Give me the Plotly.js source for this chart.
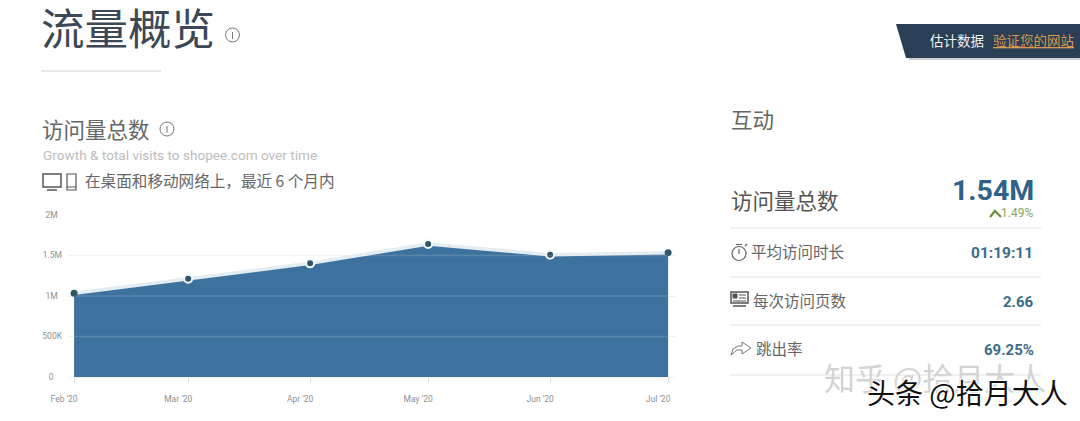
<!DOCTYPE html>
<html>
<head>
<meta charset="utf-8">
<script src="https://cdn.plot.ly/plotly-3.0.1.min.js"></script>
<style>html,body{margin:0;padding:0;background:#fff;overflow:hidden}#chart{width:1080px;height:421px}</style>
</head>
<body>
<div id="chart"></div>
<script>
const months = ['2020-02-01','2020-03-01','2020-04-01','2020-05-01','2020-06-01','2020-07-01'];
const monthLabels = ["Feb '20","Mar '20","Apr '20","May '20","Jun '20","Jul '20"];
const visits = [1033000,1214000,1403000,1642000,1510000,1535000];
const yTicks = [0,500000,1000000,1500000,2000000];
const yLabels = ['0\u00a0\u00a0\u00a0\u00a0','500K','1M\u00a0\u00a0','1.5M','2M\u00a0\u00a0'];
const ringWidths = [0,2,2,2,2,0];
const dotSizes = [7,8,8,8,8,7];
const metricNames = ['平均访问时长','每次访问页数','跳出率'];
const metricValues = ['01:19:11','2.66','69.25%'];

const W=1080,H=421,L=68,R=676,T=215,B=377;
const px=x=>(x-L)/(R-L), py=y=>(B-y)/(B-T);
const FF='Roboto, "Noto Sans CJK SC", sans-serif';
const CJK='"Noto Sans CJK SC", Roboto, sans-serif';

function txt(text,x,y,size,color,anchor,family,extra){
  return Object.assign({text,x:px(x),y:py(y),xref:'paper',yref:'paper',showarrow:false,
    xanchor:anchor||'left',yanchor:'middle',borderpad:0,
    font:{size,color,family:family||CJK}},extra||{});
}
function box(x0,y0,x1,y1,c,w,fill){
  return {type:'rect',xref:'paper',yref:'paper',x0:px(x0),x1:px(x1),y0:py(y0),y1:py(y1),
    line:{color:c,width:w},fillcolor:fill||'rgba(0,0,0,0)',layer:'above'};
}
function circ(cx,cy,r,c,w){
  return {type:'circle',xref:'paper',yref:'paper',x0:px(cx-r),x1:px(cx+r),y0:py(cy-r),y1:py(cy+r),
    line:{color:c,width:w},fillcolor:'rgba(0,0,0,0)',layer:'above'};
}
function seg(x0,y0,x1,y1,c,w){
  return {type:'line',xref:'paper',yref:'paper',x0:px(x0),x1:px(x1),y0:py(y0),y1:py(y1),
    line:{color:c,width:w},layer:'above'};
}
function poly(pts,c,w,fill,close){
  const d=pts.map((p,i)=>(i?'L':'M')+px(p[0]).toFixed(5)+','+py(p[1]).toFixed(5)).join(' ')+(close?' Z':'');
  return {type:'path',xref:'paper',yref:'paper',path:d,line:{color:c,width:w},fillcolor:fill||'rgba(0,0,0,0)',layer:'above'};
}

const gridOverlays = yTicks.slice(1,4).map(v=>({type:'line',xref:'x',yref:'y',x0:months[0],x1:months[5],y0:v,y1:v,
  line:{color:'rgba(255,255,255,0.14)',width:1.5},layer:'above'}));

const shapes = [
  ...gridOverlays,
  seg(41,71,161,71,'#d2d2d2',1.2),
  circ(232.5,35,7,'#777',1), seg(232.5,32,232.5,39,'#777',1),
  circ(167,129,7,'#777',1), seg(167,126,167,133,'#777',1),
  // device icons
  box(43,174,61,187,'#555',1.5), seg(47,190,57,190,'#555',1.5),
  box(67,174,76,190,'#555',1.2), seg(67,187,76,187,'#555',1),
  // banner
  poly([[899,26],[1080,26],[1080,60],[909,60]],'rgba(0,0,0,0)',0,'rgba(60,70,80,0.25)',true),
  poly([[896,24],[1080,24],[1080,58],[906,58]],'rgba(0,0,0,0)',0,'#2a3e55',true),
  // panel rules
  seg(730,228,1041,228,'#e4e4e4',1.2),
  seg(730,277,1041,277,'#e4e4e4',1.2),
  seg(730,325,1041,325,'#e4e4e4',1.2),
  seg(730,375,1041,375,'#e4e4e4',1.2),
  // caret
  poly([[990,217],[995,211],[1001,217]],'#6f8f3f',2.2),
  // stopwatch
  circ(739,253.5,7,'#666',1.2), seg(739,249,739,254,'#666',1.2), seg(736,244.5,742,244.5,'#666',1.2), seg(745,246,747,244,'#666',1.2),
  // newspaper
  box(731,292,748,303,'#555',1.5,'#fff'), box(733,294,737,298,'#555',1,'#555'),
  seg(739,295,746,295,'#555',1), seg(739,298,746,298,'#555',1), seg(733,301,746,301,'#555',1), seg(733,306,746,306,'#555',1.5),
  // share arrow
  poly([[731,355],[733,349],[738,346],[742,346],[742,342],[751,348],[742,354],[742,350],[737,350],[731,355]],'#777',1),
];

const annotations = [
  txt('流量概览',40,26,43.5,'#3c4856'),
  txt('访问量总数',41,128,21.5,'#666'),
  txt('Growth & total visits to shopee.com over time',41.5,155,13.6,'#bdbdbd','left',FF),
  txt('在桌面和移动网络上，最近 6 个月内',84,180,15.6,'#666','left',CJK),
  txt('估计数据',929,40,13.5,'#eef2f5'),
  txt('验证您的网站',992,40,13.5,'#d9964f','left',CJK,{}),
  txt('互动',730,118,21.5,'#666'),
  txt('访问量总数',730,199,21.5,'#555'),
  txt('<b>1.54M</b>',1035,190,28.5,'#2f6286','right',FF,{}),
  txt('1.49%',1034,213,12,'#8ba45c','right',FF),
  txt(metricNames[0],750,251,15.5,'#666'),
  txt(metricNames[1],752,300,15.5,'#666'),
  txt(metricNames[2],755,348,15.5,'#666'),
  txt('<b>'+metricValues[0]+'</b>',1034,253,15.5,'#3d6c88','right',FF),
  txt('<b>'+metricValues[1]+'</b>',1035,302,15,'#3d6c88','right',FF),
  txt('<b>'+metricValues[2]+'</b>',1035,350,15,'#3d6c88','right',FF),
  txt('知乎 @拾月大人',823,376,31,'#d4d4d4'),
  txt('头条 @拾月大人',866,392,28,'#111','left',CJK),
];
annotations[5].font.lineposition='under';
annotations[17].font.shadow='1px 1px 1px #fff, -1px -1px 1px #fff, 1px -1px 1px #fff, -1px 1px 1px #fff';

const traces = [{
  x:months,y:visits,type:'scatter',mode:'lines+markers',
  fill:'tozeroy',fillcolor:'#3e729e',
  line:{color:'#e4edf1',width:3.5},
  marker:{size:dotSizes,color:'#2e5568',opacity:1,line:{color:'#f4f8fa',width:ringWidths}},
  hoverinfo:'skip',cliponaxis:false
}];

const layout = {
  width:W,height:H,paper_bgcolor:'#fff',plot_bgcolor:'#fff',showlegend:false,
  margin:{l:L,r:W-R,t:T,b:H-B,pad:0},
  font:{family:FF},
  xaxis:{type:'date',range:['2020-01-30 11:00','2020-07-03 00:00'],
    tickmode:'array',tickvals:months,ticktext:monthLabels,ticklabelshift:-10,ticklabelstandoff:9,
    tickfont:{size:8.5,color:'#909090'},ticks:'outside',ticklen:5,tickcolor:'#ddd',tickwidth:1,
    showgrid:false,zeroline:false,showline:true,linecolor:'#eef2f4',linewidth:1,fixedrange:true},
  yaxis:{range:[0,2000000],tickmode:'array',tickvals:yTicks,ticktext:yLabels,
    tickfont:{size:8.5,color:'#909090'},ticks:'',ticklabelstandoff:5,
    showgrid:true,gridcolor:'#f1f1f1',gridwidth:1,zeroline:false,showline:false,fixedrange:true},
  shapes,annotations
};
Plotly.newPlot('chart',traces,layout,{displayModeBar:false,staticPlot:true});
</script>
</body>
</html>
